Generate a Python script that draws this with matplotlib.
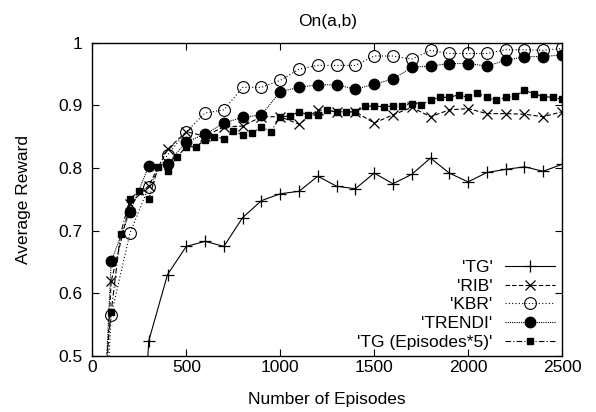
# Average reward vs. number of episodes, On(a,b) - gnuplot-style black & white chart
import numpy as np
import matplotlib
matplotlib.use("Agg")
import matplotlib.pyplot as plt

plt.rcParams.update({"font.family": ["Liberation Sans", "DejaVu Sans"],
                     "font.size": 12.5})

# ---- data ----
ep_100 = np.arange(0, 2600, 100)          # 0, 100, ..., 2500
ep_tg = np.arange(200, 2600, 100)         # 200, ..., 2500
ep_50 = np.arange(50, 2550, 50)           # 50, ..., 2500

tg = [0.0, 0.524, 0.630, 0.675, 0.683, 0.675, 0.721, 0.748, 0.759, 0.763,
      0.787, 0.771, 0.767, 0.792, 0.775, 0.790, 0.816, 0.792, 0.778, 0.793,
      0.798, 0.802, 0.795, 0.806]
rib = [0.0, 0.619, 0.743, 0.772, 0.830, 0.858, 0.851, 0.866, 0.867, 0.882,
       0.882, 0.870, 0.893, 0.890, 0.890, 0.872, 0.885, 0.897, 0.882, 0.893,
       0.895, 0.887, 0.887, 0.886, 0.882, 0.890]
kbr = [0.0, 0.565, 0.696, 0.770, 0.821, 0.858, 0.888, 0.893, 0.929, 0.929,
       0.940, 0.958, 0.964, 0.964, 0.964, 0.979, 0.979, 0.974, 0.988, 0.983,
       0.983, 0.983, 0.989, 0.989, 0.988, 0.991]
trendi = [0.0, 0.651, 0.730, 0.803, 0.807, 0.842, 0.854, 0.872, 0.881, 0.885,
          0.922, 0.929, 0.933, 0.933, 0.926, 0.934, 0.942, 0.961, 0.963, 0.967,
          0.967, 0.963, 0.972, 0.978, 0.978, 0.981]
tg5 = [0.42, 0.57, 0.695, 0.751, 0.763, 0.750, 0.802, 0.796, 0.818, 0.834,
       0.834, 0.845, 0.850, 0.847, 0.859, 0.853, 0.856, 0.866, 0.858, 0.882,
       0.883, 0.890, 0.885, 0.885, 0.893, 0.890, 0.890, 0.889, 0.899, 0.899,
       0.898, 0.899, 0.899, 0.903, 0.901, 0.909, 0.913, 0.913, 0.917, 0.913,
       0.920, 0.913, 0.908, 0.913, 0.915, 0.924, 0.919, 0.914, 0.913, 0.910]

fig = plt.figure(figsize=(5.96, 4.12), dpi=100)
ax = fig.add_axes([0.155, 0.136, 0.788, 0.760])

lw = 0.8
ax.plot(ep_tg, tg, color="black", lw=lw, ls="-", marker="+", ms=8, mew=0.9,
        label="'TG'")
ax.plot(ep_100, rib, color="black", lw=lw, ls=(0, (4, 2)), marker="x", ms=7,
        mew=0.9, label="'RIB'")
ax.plot(ep_100, kbr, color="black", lw=lw, ls=(0, (1, 2)), marker="o", ms=8.5,
        mfc="none", mew=0.8, label="'KBR'")
ax.plot(ep_100, trendi, color="black", lw=lw, ls=(0, (1, 1)), marker="o",
        ms=7.5, label="'TRENDI'")
ax.plot(ep_50, tg5, color="black", lw=lw, ls=(0, (5, 2, 1, 2)), marker="s",
        ms=4, label="'TG (Episodes*5)'")

ax.set_xlim(0, 2500)
ax.set_ylim(0.5, 1.0)
ax.set_xticks(np.arange(0, 2501, 500))
ax.set_yticks([0.5, 0.6, 0.7, 0.8, 0.9, 1.0])
ax.set_yticklabels(["0.5", "0.6", "0.7", "0.8", "0.9", "1"])
ax.tick_params(axis="y", direction="in", right=True, length=5, width=0.8,
               labelsize=12.5, pad=7)
ax.tick_params(axis="x", direction="in", top=True, length=5, width=0.8,
               labelsize=12.5, pad=3)
for sp in ax.spines.values():
    sp.set_linewidth(1.0)

ax.set_title("On(a,b)", fontsize=12.5, pad=12)
ax.set_xlabel("Number of Episodes", fontsize=12.5, labelpad=12)
ax.set_ylabel("Average Reward", fontsize=12.5, labelpad=20)

leg = ax.legend(loc="lower right", bbox_to_anchor=(0.985, 0.02),
                frameon=False, markerfirst=False, fontsize=12.5,
                handlelength=2.9, labelspacing=0.2, borderaxespad=0,
                borderpad=0, handletextpad=0.7)
for t in leg.get_texts():
    t.set_ha("right")
leg._legend_box.align = "right"

fig.savefig("out.png", dpi=100)
